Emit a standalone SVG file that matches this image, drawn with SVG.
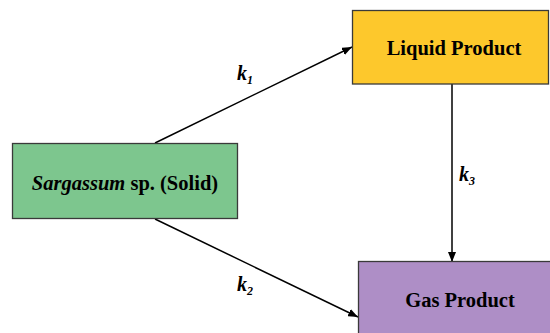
<svg xmlns="http://www.w3.org/2000/svg" width="550" height="333" viewBox="0 0 550 333">
<style>
.box{stroke:#3a3a3a;stroke-width:1.3}
.t{font-family:"Liberation Serif","Times New Roman",serif;font-weight:bold;font-size:20.5px;fill:#000;text-anchor:middle}
.k{font-family:"Liberation Serif","Times New Roman",serif;font-weight:bold;font-style:italic;font-size:20px;fill:#000}
.c{stroke:#000;stroke-width:1.5;fill:none;marker-end:url(#ah)}
</style>
<defs>
<marker id="ah" markerWidth="10" markerHeight="8" refX="10" refY="4" orient="auto" markerUnits="userSpaceOnUse">
<path d="M0,0 L10,4 L0,8 Z" fill="#000"/>
</marker>
</defs>
<rect width="550" height="333" fill="#fff"/>
<g id="connectors">
<line class="c" x1="155" y1="143" x2="352" y2="47"/>
<line class="c" x1="155" y1="219" x2="358" y2="317"/>
<line class="c" x1="452" y1="84" x2="452" y2="262"/>
<text class="k" x="237" y="80">k<tspan font-size="12" dy="4">1</tspan></text>
<text class="k" x="237" y="291">k<tspan font-size="12" dy="4">2</tspan></text>
<text class="k" x="459" y="181">k<tspan font-size="12" dy="4">3</tspan></text>
</g>
<g id="sargassum">
<rect class="box" x="12.5" y="143.5" width="225" height="75" fill="#7DC68E"/>
<text class="t" x="125" y="190"><tspan font-style="italic">Sargassum</tspan> sp. (Solid)</text>
</g>
<g id="liquid">
<rect class="box" x="352.5" y="10.5" width="196" height="73.5" fill="#FDC82C"/>
<text class="t" x="454" y="55">Liquid Product</text>
</g>
<g id="gas">
<rect class="box" x="358.5" y="261.5" width="200" height="80" fill="#AE8EC6"/>
<text class="t" x="460" y="307">Gas Product</text>
</g>
</svg>
